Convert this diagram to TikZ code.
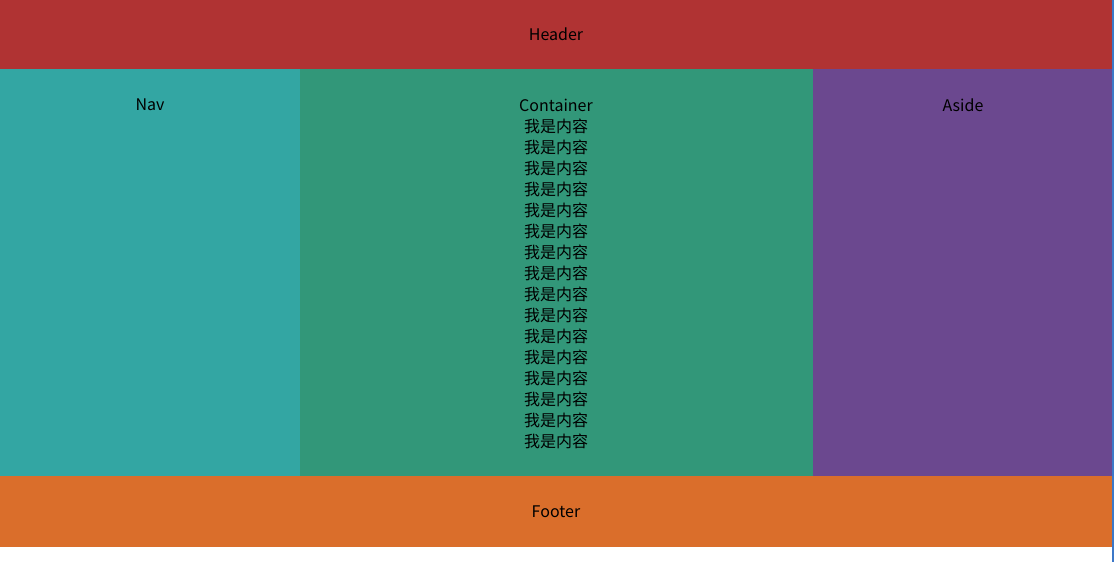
\documentclass[tikz,border=0pt]{standalone}
\usepackage{fontspec}
\setmainfont{Noto Sans CJK SC}
\usetikzlibrary{positioning}
\definecolor{headred}{RGB}{176,51,51}
\definecolor{navteal}{RGB}{51,166,163}
\definecolor{boxgreen}{RGB}{50,151,121}
\definecolor{asidepurple}{RGB}{107,72,143}
\definecolor{footorange}{RGB}{218,110,43}
\definecolor{edgeblue}{RGB}{60,120,200}

\begin{document}
\begin{tikzpicture}[
        x = 1pt, y = -1pt,
        mtext/.style = {font = \fontsize{16}{21}\selectfont, inner sep = 0pt, text = black}
        ]
        \useasboundingbox (0,0) rectangle (1114,562);

        % panels
        \fill[headred]     (0,0)   rectangle (1112,69);
        \fill[navteal]     (0,69)  rectangle (300,476);
        \fill[boxgreen]    (300,69) rectangle (813,476);
        \fill[asidepurple] (813,69) rectangle (1112,476);
        \fill[footorange]  (0,476) rectangle (1112,547);
        \fill[edgeblue]    (1112,0) rectangle (1114,562);

        % labels
        \node[mtext] (Hd) at (556,34) {Header};
        \node[mtext] (Nv) at (150,105) {Nav};
        \node[mtext] (Ct) at (556,105) {Container};
        \node[mtext] (As) at (963,105) {Aside};
        \node[mtext] (Ft) at (556,512) {Footer};

        \foreach \n in {1,...,16}
            \node[mtext] (C\n) at (556,105+21*\n) {我是内容};

    \end{tikzpicture}
\end{document}
